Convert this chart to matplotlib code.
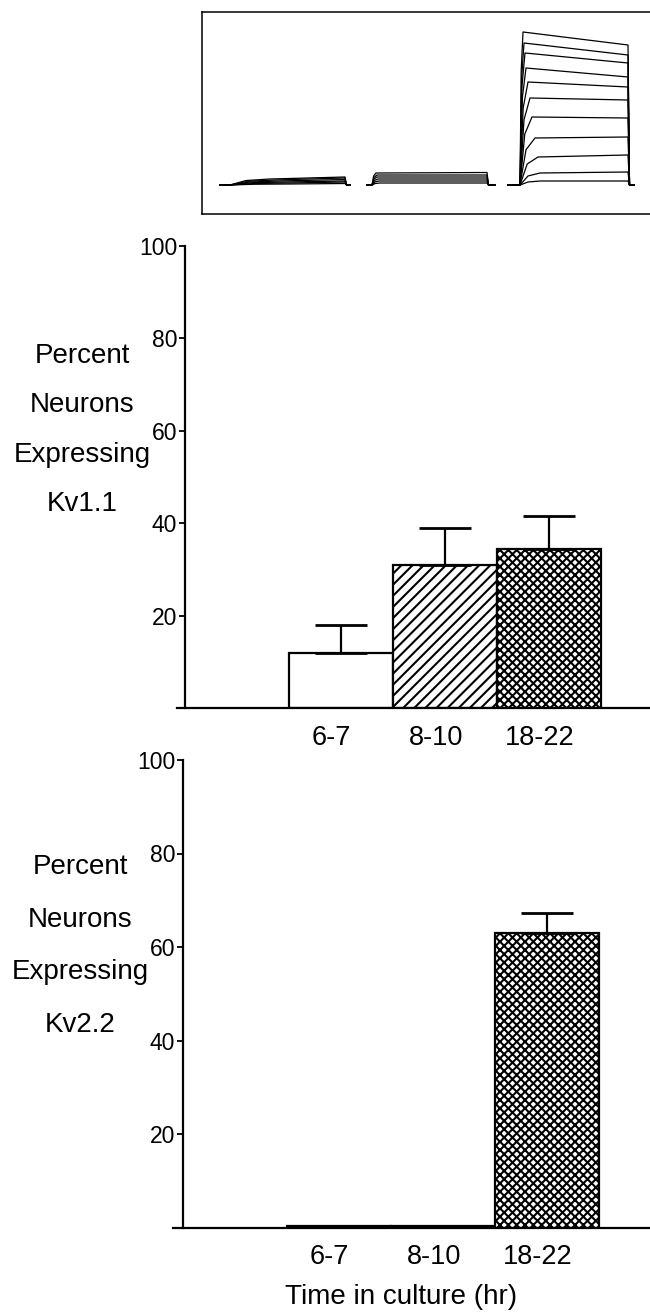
import numpy as np
import matplotlib
matplotlib.use("Agg")
import matplotlib.pyplot as plt

plt.rcParams['font.family'] = ['Liberation Sans', 'DejaVu Sans']
plt.rcParams['hatch.linewidth'] = 1.5

# ---- data ----
groups = ["6-7", "8-10", "18-22"]
kv11_mean = [12, 31, 34.5]
kv11_err = [6, 8, 7]
kv22_mean = [0.4, 0.4, 63]
kv22_err = [0, 0, 4.3]
hatches = ["", "///", "xxxx"]

# current traces (a.u.), one block per age group
# block timing: start, step on, step off, end
g1_time = [18, 28, 143, 148]
g1_amp_on = [1, 2, 3, 4, 5, 6]
g1_amp_off = [1.5, 3, 4, 5.5, 7, 8]
g1_rise = [60, 60, 55, 50, 45, 40]

g2_time = [165, 170, 285, 293]
g2_amp_on = [2, 4, 6, 8, 10, 12]
g2_amp_off = [2, 4, 6, 8, 10, 12.5]
g2_rise = [8, 7, 6, 5, 5, 4]

g3_time = [306, 318, 426, 432]
g3_amp_on = [153, 142, 132, 117, 103, 87, 68, 47, 28, 12, 4]
g3_amp_off = [140, 130, 122, 108, 98, 85, 67, 48, 30, 13, 4]
g3_rise = [3, 4, 5, 6, 8, 10, 12, 15, 18, 20, 20]

W, H = 650, 1314
fig = plt.figure(figsize=(W / 100, H / 100), dpi=100)


def fpos(left, top, right, bottom):
    return [left / W, 1 - bottom / H, (right - left) / W, (bottom - top) / H]


# ---- top: traces ----
axt = fig.add_axes(fpos(202, 12, 650, 214))
for t, on, off, rise in [(g1_time, g1_amp_on, g1_amp_off, g1_rise),
                         (g2_time, g2_amp_on, g2_amp_off, g2_rise),
                         (g3_time, g3_amp_on, g3_amp_off, g3_rise)]:
    for a0, a1, r in zip(on, off, rise):
        xs = [t[0], t[1], t[1] + 0.4 * r, t[1] + r, t[2], t[2] + 1.5, t[3]]
        ys = [0, 0, 0.75 * a0, a0, a1, 0, 0]
        axt.plot(xs, ys, color="black", lw=0.9)
axt.set_xlim(0, 448)
axt.set_ylim(-29, 173)
axt.set_xticks([])
axt.set_yticks([])
for s in ["top", "left", "bottom"]:
    axt.spines[s].set_linewidth(1.1)
axt.spines["right"].set_visible(False)


def bar_panel(ax, means, errs, xmin, xmax):
    x = np.arange(len(groups)) + 1.5
    for xi, m, e, h in zip(x, means, errs, hatches):
        ax.bar(xi, m, width=1.0, color="white", edgecolor="black",
               hatch=h, linewidth=1.6, zorder=2)
        if e > 0:
            ax.errorbar(xi, m, yerr=[[0], [e]], fmt="none", ecolor="black",
                        elinewidth=1.6, capsize=19, capthick=2, zorder=3)
    ax.set_xlim(xmin, xmax)
    ax.set_ylim(0, 100)
    ax.spines["left"].set_position(("data", 0))
    ax.spines["top"].set_visible(False)
    ax.spines["right"].set_visible(False)
    ax.spines["left"].set_linewidth(1.6)
    ax.spines["bottom"].set_linewidth(1.6)
    ax.set_yticks([20, 40, 60, 80, 100])
    ax.tick_params(axis="y", length=4.5, width=1.3, labelsize=16.5, pad=1)
    ax.set_xticks(x - 0.09)
    ax.set_xticklabels(groups, fontsize=19.5)
    ax.tick_params(axis="x", length=0, pad=12)


# ---- middle: Kv1.1 ----
axm = fig.add_axes(fpos(177, 246, 650, 708))
bar_panel(axm, kv11_mean, kv11_err, -8 / 104, 465 / 104)
fig.text(82 / W, 1 - 430 / H, "Percent\nNeurons\nExpressing\nKv1.1",
         ha="center", va="center", multialignment="center",
         fontsize=20, linespacing=2.16)

# ---- bottom: Kv2.2 ----
axb = fig.add_axes(fpos(173, 760, 650, 1227.5))
bar_panel(axb, kv22_mean, kv22_err, -10 / 104, 467 / 104)
fig.text(80 / W, 1 - 946 / H, "Percent\nNeurons\nExpressing\nKv2.2",
         ha="center", va="center", multialignment="center",
         fontsize=20, linespacing=2.32)

fig.text(401 / W, 1 - 1297 / H, "Time in culture (hr)",
         ha="center", va="center", fontsize=20)

fig.savefig("out.png", dpi=100)
